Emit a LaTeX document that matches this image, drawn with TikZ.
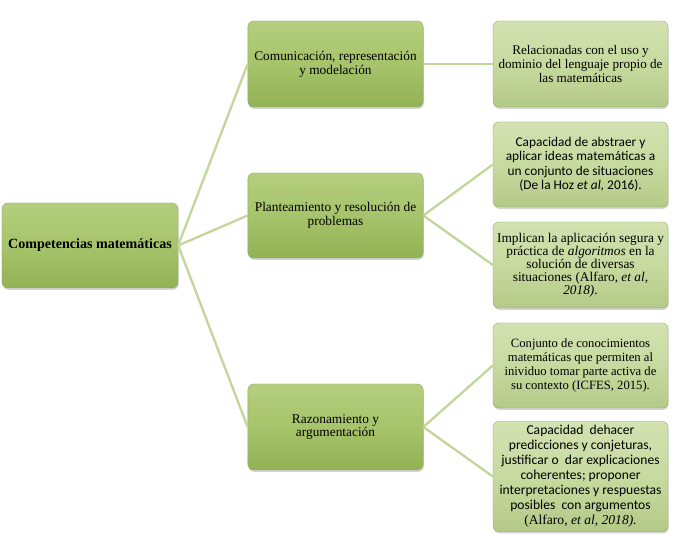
\documentclass[tikz,border=0pt]{standalone}
\usepackage{fontspec}
\setmainfont{Liberation Serif}
\newfontfamily\calibri{Carlito}
\usepackage{tikz}
\usetikzlibrary{shadows}
\definecolor{CompTop}{HTML}{B4CE7E}
\definecolor{CompMid}{HTML}{A6C46B}
\definecolor{CompBot}{HTML}{92B254}
\definecolor{LeafTop}{HTML}{D3E2B1}
\definecolor{LeafMid}{HTML}{C7DA9F}
\definecolor{LeafBot}{HTML}{B4CA88}
\definecolor{CompEdge}{HTML}{8EA85A}
\definecolor{CompLine}{HTML}{C3D69B}

\begin{document}
\begin{tikzpicture}[
  mainbox/.style={top color=CompTop,bottom color=CompBot,middle color=CompMid,draw=CompEdge,line width=.3pt,rounded corners=5pt,minimum width=5.26cm,minimum height=2.58cm,align=center,font=\fontsize{11.4}{11.9}\selectfont,drop shadow={shadow xshift=.6pt,shadow yshift=-1.6pt,opacity=.35}},
  leafbox/.style={mainbox,top color=LeafTop,bottom color=LeafBot,middle color=LeafMid,minimum width=5.25cm},
  link/.style={draw=CompLine,line width=2pt}]
\useasboundingbox (0,0) rectangle (20.34,16.02);
\node[mainbox,minimum width=5.28cm,minimum height=2.55cm,font=\fontsize{12}{13}\selectfont] (comp) at (2.70,8.655) {\textbf{Competencias matemáticas}};
\node[mainbox] (com) at (10.065,14.1) {Comunicación, representación\\y modelación};
\node[mainbox,minimum height=2.55cm] (plan) at (10.065,9.555) {Planteamiento y resolución de\\problemas};
\node[mainbox] (raz) at (10.065,3.21) {Razonamiento y\\argumentación};
\node[leafbox,font=\fontsize{11.2}{11.9}\selectfont] (rel) at (17.415,14.1) {Relacionadas con el uso y\\dominio del lenguaje propio de\\las matemáticas};
\node[leafbox,minimum height=2.55cm,font=\calibri\fontsize{11.4}{12.4}\selectfont] (abs) at (17.415,11.085) {Capacidad de abstraer y\\aplicar ideas matemáticas a\\un conjunto de situaciones\\(De la Hoz \textit{et al,} 2016).};
\node[leafbox,font=\fontsize{11.4}{11.1}\selectfont] (alg) at (17.415,8.07) {Implican la aplicación segura y\\práctica de \textit{algoritmos} en la\\solución de diversas\\situaciones (Alfaro, \textit{et al,}\\\textit{2018)}.};
\node[leafbox,minimum height=2.55cm,font=\fontsize{10.8}{11.9}\selectfont] (con) at (17.415,5.055) {Conjunto de conocimientos\\matemáticas que permiten al\\inividuo tomar parte activa de\\su contexto (ICFES, 2015).};
\node[leafbox,minimum height=3.15cm,font=\calibri\fontsize{11.6}{12.8}\selectfont] (pre) at (17.415,1.725) {Capacidad\ \ dehacer\\predicciones y conjeturas,\\justificar o\ \ dar explicaciones\\coherentes; proponer\\interpretaciones y respuestas\\posibles\ \ con argumentos\\{\rmfamily (Alfaro, \textit{et al, 2018).}}};
% conectores
\draw[link] (comp.east) -- (com.west);
\draw[link] (comp.east) -- (plan.west);
\draw[link] (comp.east) -- (raz.west);
\draw[link] (com.east) -- (rel.west);
\draw[link] (plan.east) -- (abs.west);
\draw[link] (plan.east) -- (alg.west);
\draw[link] (raz.east) -- (con.west);
\draw[link] (raz.east) -- (pre.west);
\end{tikzpicture}
\end{document}
